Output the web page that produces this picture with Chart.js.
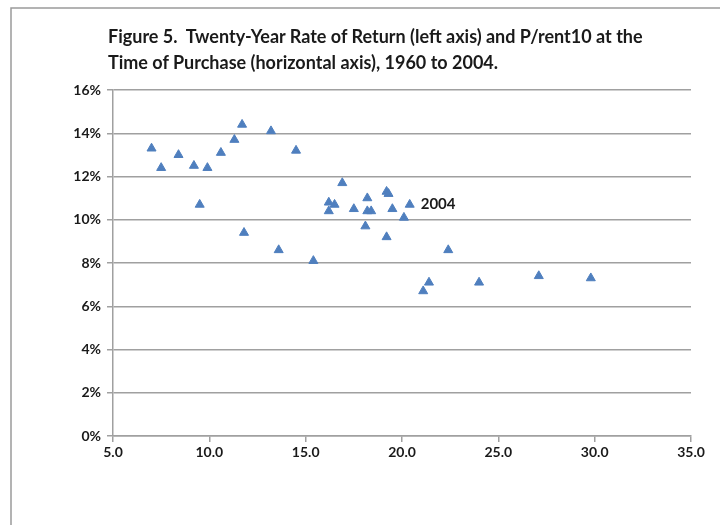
<!DOCTYPE html>
<html>
<head>
<meta charset="utf-8">
<script src="https://cdn.jsdelivr.net/npm/chart.js@4/dist/chart.umd.min.js"></script>
<style>
  html, body { margin: 0; padding: 0; background: #fff; }
  #wrap { position: relative; width: 720px; height: 525px; }
  #title {
    position: absolute; left: 108px; top: 23px;
    font-family: Lato, "Open Sans", sans-serif; font-weight: bold;
    font-size: 18px; line-height: 26px; color: #1a1a1a;
  }
  canvas { position: absolute; left: 0; top: 0; }
</style>
</head>
<body>
<div id="wrap">
  <canvas id="chart" width="720" height="525"></canvas>
  <div id="title">Figure 5.&nbsp; Twenty-Year Rate of Return (left axis) and P/rent10 at the<br>Time of Purchase (horizontal axis), 1960 to 2004.</div>
</div>
<script>
// P/rent10 at time of purchase (horizontal) and twenty-year return in % (vertical)
const pRent   = [7.0, 7.5, 8.4, 9.2, 9.5, 9.9, 10.6, 11.3, 11.7, 11.8, 13.2, 13.6, 14.5, 15.4,
                 16.2, 16.2, 16.5, 16.9, 17.5, 18.1, 18.2, 18.2, 18.4, 19.2, 19.2, 19.3, 19.5,
                 20.1, 20.4, 21.1, 21.4, 22.4, 24.0, 27.1, 29.8];
const returns = [13.3, 12.4, 13.0, 12.5, 10.7, 12.4, 13.1, 13.7, 14.4, 9.4, 14.1, 8.6, 13.2, 8.1,
                 10.8, 10.4, 10.7, 11.7, 10.5, 9.7, 11.0, 10.4, 10.4, 11.3, 9.2, 11.2, 10.5,
                 10.1, 10.7, 6.7, 7.1, 8.6, 7.1, 7.4, 7.3];
const xTicks = [5, 10, 15, 20, 25, 30, 35];
const yTicks = [0, 2, 4, 6, 8, 10, 12, 14, 16];
const labelPoint = { x: 20.4, y: 10.7, text: '2004' };

const points = pRent.map((x, i) => ({ x: x, y: returns[i] }));

// frame round the figure (only left and top edges fall inside the picture)
const frame = {
  id: 'frame',
  beforeDraw(chart) {
    const ctx = chart.ctx;
    ctx.save();
    ctx.strokeStyle = '#9a9a9a';
    ctx.lineWidth = 1.5;
    ctx.beginPath();
    ctx.moveTo(11, 525);
    ctx.lineTo(11, 8);
    ctx.lineTo(720, 8);
    ctx.stroke();
    ctx.restore();
  }
};

const yearLabel = {
  id: 'yearLabel',
  afterDatasetsDraw(chart) {
    const ctx = chart.ctx;
    const px = chart.scales.x.getPixelForValue(labelPoint.x);
    const py = chart.scales.y.getPixelForValue(labelPoint.y);
    ctx.save();
    ctx.font = 'bold 15px Lato, sans-serif';
    ctx.fillStyle = '#1a1a1a';
    ctx.textAlign = 'left';
    ctx.textBaseline = 'middle';
    ctx.fillText(labelPoint.text, px + 11, py);
    ctx.restore();
  }
};

const tickFont = { family: 'Lato, sans-serif', size: 14, weight: 'bold' };

new Chart(document.getElementById('chart'), {
  type: 'scatter',
  data: {
    datasets: [{
      data: points,
      pointStyle: 'triangle',
      pointRadius: 5.2,
      pointHoverRadius: 5.2,
      backgroundColor: '#4f7fbe',
      borderColor: '#4f7fbe',
      borderWidth: 1
    }]
  },
  options: {
    responsive: false,
    animation: false,
    layout: { padding: { left: 0, top: 90, right: 29, bottom: 0 } },
    plugins: { legend: { display: false }, tooltip: { enabled: false } },
    scales: {
      x: {
        type: 'linear',
        min: 5, max: 35,
        afterBuildTicks: s => { s.ticks = xTicks.map(v => ({ value: v })); },
        afterFit: s => { s.height = 89; },
        ticks: {
          font: tickFont, color: '#1a1a1a', padding: 2,
          callback: v => v.toFixed(1)
        },
        grid: { drawOnChartArea: false, drawTicks: true, tickLength: 6, color: '#a0a0a0', lineWidth: 1.5 },
        border: { color: '#a0a0a0', width: 1.5 }
      },
      y: {
        type: 'linear',
        min: 0, max: 16,
        afterBuildTicks: s => { s.ticks = yTicks.map(v => ({ value: v })); },
        afterFit: s => { s.width = 113; },
        ticks: {
          font: tickFont, color: '#1a1a1a', padding: 6,
          callback: v => v + '%'
        },
        grid: { color: '#a0a0a0', lineWidth: 1.5, tickLength: 6 },
        border: { color: '#a0a0a0', width: 1.5 }
      }
    }
  },
  plugins: [frame, yearLabel]
});
</script>
</body>
</html>
